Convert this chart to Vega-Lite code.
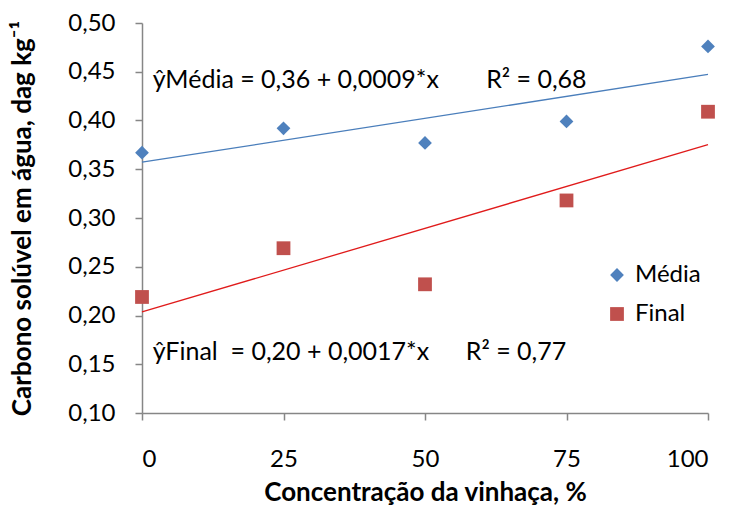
{
  "$schema": "https://vega.github.io/schema/vega-lite/v6.json",
  "width": 566,
  "height": 390,
  "autosize": {"type": "none"},
  "padding": {"left": 142, "top": 23, "right": 23, "bottom": 94},
  "background": "white",
  "config": {
    "font": "Lato",
    "view": {"stroke": null},
    "axis": {
      "grid": false,
      "domainColor": "#868686",
      "domainWidth": 1.5,
      "tickColor": "#868686",
      "tickWidth": 1.5,
      "labelColor": "#000000",
      "titleColor": "#000000",
      "labelFont": "Lato",
      "titleFont": "Lato",
      "labelFontSize": 24,
      "titleFontSize": 26,
      "titleFontWeight": "bold"
    },
    "legend": {"labelFont": "Lato", "labelFontSize": 24, "labelColor": "#000000"}
  },
  "data": {
    "values": [
      {"conc": 0, "serie": "Média", "valor": 0.367},
      {"conc": 25, "serie": "Média", "valor": 0.392},
      {"conc": 50, "serie": "Média", "valor": 0.377},
      {"conc": 75, "serie": "Média", "valor": 0.399},
      {"conc": 100, "serie": "Média", "valor": 0.476},
      {"conc": 0, "serie": "Final", "valor": 0.219},
      {"conc": 25, "serie": "Final", "valor": 0.269},
      {"conc": 50, "serie": "Final", "valor": 0.232},
      {"conc": 75, "serie": "Final", "valor": 0.318},
      {"conc": 100, "serie": "Final", "valor": 0.409}
    ]
  },
  "layer": [
    {
      "transform": [
        {"filter": "datum.serie === 'Média'"},
        {"regression": "valor", "on": "conc", "extent": [0, 100]}
      ],
      "mark": {"type": "line", "strokeWidth": 1.3, "color": "#4A7EBB"},
      "encoding": {
        "x": {
          "field": "conc",
          "type": "quantitative",
          "scale": {"domain": [0, 100], "nice": false, "zero": false},
          "axis": {
            "values": [0, 25, 50, 75, 100],
            "tickSize": 7,
            "labelPadding": 27,
            "title": "Concentração da vinhaça, %",
            "titlePadding": 8
          }
        },
        "y": {
          "field": "valor",
          "type": "quantitative",
          "scale": {"domain": [0.1, 0.5], "nice": false, "zero": false},
          "axis": {
            "values": [0.1, 0.15, 0.2, 0.25, 0.3, 0.35, 0.4, 0.45, 0.5],
            "labelExpr": "replace(format(datum.value, '.2f'), '.', ',')",
            "tickSize": 7,
            "labelPadding": 20,
            "title": "Carbono solúvel em água, dag kg⁻¹",
            "titlePadding": 32
          }
        }
      }
    },
    {
      "transform": [
        {"filter": "datum.serie === 'Final'"},
        {"regression": "valor", "on": "conc", "extent": [0, 100]}
      ],
      "mark": {"type": "line", "strokeWidth": 1.3, "color": "#E01B1B"},
      "encoding": {
        "x": {"field": "conc", "type": "quantitative"},
        "y": {"field": "valor", "type": "quantitative"}
      }
    },
    {
      "mark": {"type": "point", "filled": true, "opacity": 1, "size": 190},
      "encoding": {
        "x": {"field": "conc", "type": "quantitative"},
        "y": {"field": "valor", "type": "quantitative"},
        "color": {
          "field": "serie",
          "type": "nominal",
          "scale": {"domain": ["Média", "Final"], "range": ["#4F81BD", "#C0504D"]},
          "legend": {
            "title": null,
            "orient": "none",
            "legendX": 463,
            "legendY": 240,
            "symbolSize": 190,
            "rowPadding": 15,
            "labelOffset": 6
          }
        },
        "shape": {
          "field": "serie",
          "type": "nominal",
          "scale": {"domain": ["Média", "Final"], "range": ["diamond", "square"]}
        }
      }
    },
    {
      "data": {"values": [{}]},
      "mark": {"type": "text", "align": "left", "baseline": "middle", "fontSize": 25, "text": "ŷMédia = 0,36 + 0,0009*x"},
      "encoding": {"x": {"datum": 1.9}, "y": {"datum": 0.4415}}
    },
    {
      "data": {"values": [{}]},
      "mark": {"type": "text", "align": "left", "baseline": "middle", "fontSize": 25, "text": "R² = 0,68"},
      "encoding": {"x": {"datum": 60.8}, "y": {"datum": 0.4415}}
    },
    {
      "data": {"values": [{}]},
      "mark": {"type": "text", "align": "left", "baseline": "middle", "fontSize": 25, "text": "ŷFinal\u00a0 = 0,20 + 0,0017*x"},
      "encoding": {"x": {"datum": 1.9}, "y": {"datum": 0.1626}}
    },
    {
      "data": {"values": [{}]},
      "mark": {"type": "text", "align": "left", "baseline": "middle", "fontSize": 25, "text": "R² = 0,77"},
      "encoding": {"x": {"datum": 57.2}, "y": {"datum": 0.1626}}
    }
  ]
}
